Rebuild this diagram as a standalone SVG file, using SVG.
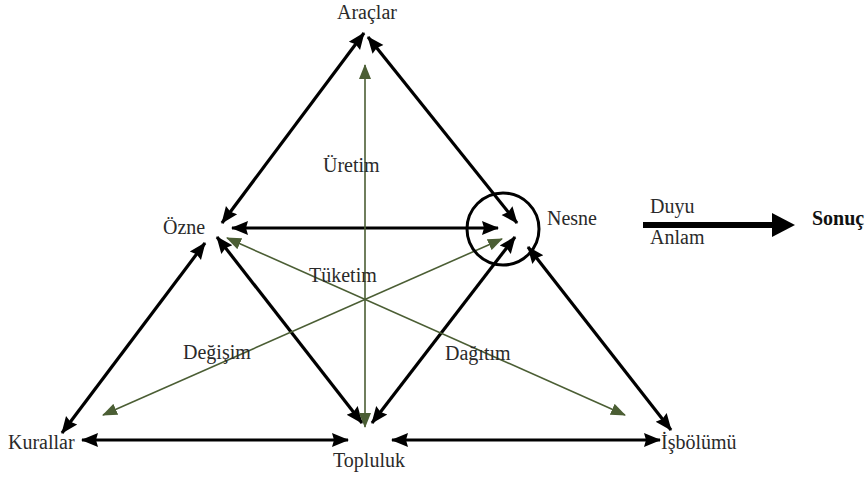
<svg xmlns="http://www.w3.org/2000/svg" width="867" height="477" viewBox="0 0 867 477">
<style>
  text { font-family: "Liberation Serif", "Times New Roman", serif; font-size: 20px; fill: #2a2a2a; }
  .b { stroke: #000; stroke-width: 3.2; fill: none; marker-start: url(#ab); marker-end: url(#ab); }
  .g { stroke: #4b5e34; stroke-width: 1.6; fill: none; marker-start: url(#ag); marker-end: url(#ag); }
  .bold { font-weight: bold; fill: #111; }
</style>
<defs>
  <marker id="ab" markerUnits="userSpaceOnUse" markerWidth="18" markerHeight="16" viewBox="0 0 18 16" refX="16" refY="8" orient="auto-start-reverse">
    <path d="M0,1 L17,8 L0,15 L2,8 z" fill="#000"/>
  </marker>
  <marker id="ag" markerUnits="userSpaceOnUse" markerWidth="15" markerHeight="13" viewBox="0 0 15 13" refX="14" refY="6.5" orient="auto-start-reverse">
    <path d="M0,0.5 L15,6.5 L0,12.5 z" fill="#4b5e34"/>
  </marker>
</defs>

<g id="connectors">
  <line class="b" x1="222" y1="223" x2="364" y2="33"/>
  <line class="b" x1="368" y1="37" x2="517" y2="223"/>
  <line class="b" x1="232" y1="228" x2="498" y2="228"/>
  <line class="b" x1="205" y1="243" x2="62" y2="433"/>
  <line class="b" x1="217" y1="237" x2="362" y2="423"/>
  <line class="b" x1="515" y1="237" x2="372" y2="423"/>
  <line class="b" x1="528" y1="247" x2="671" y2="430"/>
  <line class="b" x1="82" y1="440" x2="348" y2="440"/>
  <line class="b" x1="392" y1="440" x2="660" y2="440"/>
  <line class="g" x1="365" y1="65" x2="365" y2="427"/>
  <line class="g" x1="502" y1="239" x2="103" y2="415"/>
  <line class="g" x1="227" y1="238" x2="625" y2="415"/>
  <circle cx="503" cy="229" r="36" fill="none" stroke="#000" stroke-width="3"/>
  <g id="duyu-anlam-arrow">
    <line x1="643" y1="225" x2="774" y2="225" stroke="#000" stroke-width="6"/>
    <path d="M772,213 L795,225 L772,237 z" fill="#000"/>
  </g>
</g>

<g id="aracler"><text x="367" y="19" text-anchor="middle">Araçlar</text></g>
<g id="ozne"><text x="163" y="234">Özne</text></g>
<g id="nesne"><text x="547" y="225">Nesne</text></g>
<g id="sonuc"><text class="bold" x="812" y="225">Sonuç</text></g>
<g id="duyu"><text x="650" y="213">Duyu</text></g>
<g id="anlam"><text x="650" y="244">Anlam</text></g>
<g id="uretim"><text x="323" y="172">Üretim</text></g>
<g id="tuketim"><text x="309" y="282">Tüketim</text></g>
<g id="degisim"><text x="183" y="359">Değişim</text></g>
<g id="dagitim"><text x="445" y="360">Dağıtım</text></g>
<g id="kurallar"><text x="8" y="449">Kurallar</text></g>
<g id="topluluk"><text x="333" y="467">Topluluk</text></g>
<g id="isbolumu"><text x="661" y="449">İşbölümü</text></g>
</svg>
